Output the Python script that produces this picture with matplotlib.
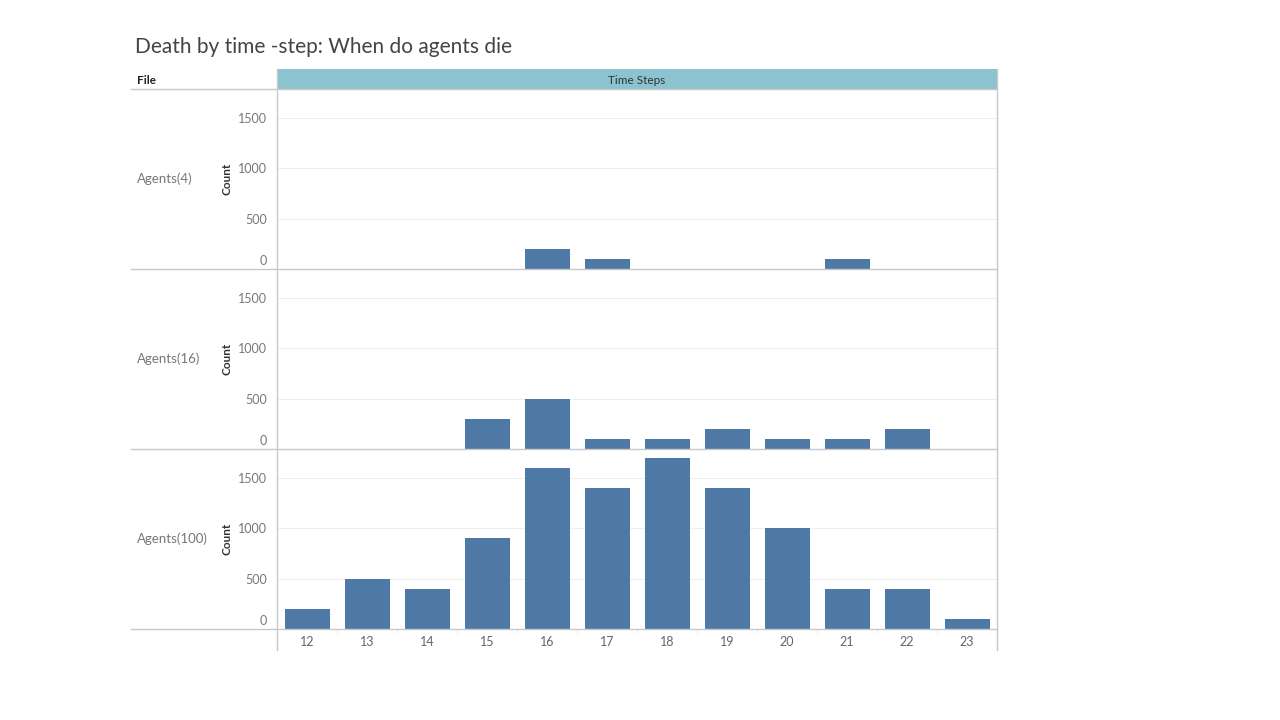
import numpy as np
import matplotlib.pyplot as plt
import matplotlib.transforms as mtransforms
from matplotlib.lines import Line2D
from matplotlib.patches import Rectangle

plt.rcParams['font.family'] = ['Lato', 'DejaVu Sans']

time_steps = [12, 13, 14, 15, 16, 17, 18, 19, 20, 21, 22, 23]
row_labels = ['Agents(4)', 'Agents(16)', 'Agents(100)']
counts_4 = [0, 0, 0, 0, 200, 100, 0, 0, 0, 100, 0, 0]
counts_16 = [0, 0, 0, 300, 500, 100, 100, 200, 100, 100, 200, 0]
counts_100 = [200, 500, 400, 900, 1600, 1400, 1700, 1400, 1000, 400, 400, 100]
y_ticks = [0, 500, 1000, 1500]

W, H = 1280, 720
fig = plt.figure(figsize=(12.8, 7.2), dpi=100)


def fx(px):
    return px / W


def fy(py):
    return 1 - py / H


bar_color = '#4E79A7'
line_color = '#c8c8c8'
x = np.arange(len(time_steps))

fig.text(fx(135), fy(47), 'Death by time -step: When do agents die',
         fontsize=15, color='#444444', va='center', ha='left')

# header
fig.text(fx(137), fy(80), 'File', fontsize=8.5, fontweight='bold',
         color='#222222', va='center', ha='left')
fig.add_artist(Rectangle((fx(277), fy(89)), fx(720), 20 / H,
                         transform=fig.transFigure, color='#8CC3D1', lw=0))
fig.text(fx(637), fy(80), 'Time Steps', fontsize=8.5, color='#333333',
         va='center', ha='center')

panels = [counts_4, counts_16, counts_100]
tops = [89, 269, 449]
lift = mtransforms.ScaledTranslation(0, 9 / 100, fig.dpi_scale_trans)
for i, (vals, top) in enumerate(zip(panels, tops)):
    ax = fig.add_axes([fx(277), fy(top + 180), fx(720), 180 / H])
    ax.bar(x, vals, width=0.75, color=bar_color, zorder=2)
    ax.set_xlim(-0.5, len(time_steps) - 0.5)
    ax.set_ylim(0, 1787)
    ax.set_yticks(y_ticks)
    ax.set_yticklabels([str(t) for t in y_ticks])
    ax.tick_params(axis='y', length=0, pad=7, labelsize=9, labelcolor='#777777')
    zero_lbl = ax.get_yticklabels()[0]
    zero_lbl.set_transform(zero_lbl.get_transform() + lift)
    for t in y_ticks[1:]:
        ax.axhline(t, color='#efefef', lw=0.8, zorder=1)
    for s in ax.spines.values():
        s.set_visible(False)
    if i == 2:
        ax.set_xticks(x)
        ax.set_xticklabels([str(t) for t in time_steps])
        ax.set_xticks(np.arange(0.5, len(time_steps) - 0.5), minor=True)
        ax.tick_params(axis='x', which='major', length=0, pad=5,
                       labelsize=9, labelcolor='#666666')
        ax.tick_params(axis='x', which='minor', length=3, color='#e6e6e6')
    else:
        ax.set_xticks([])
    fig.text(fx(137), fy(top + 90), row_labels[i], fontsize=9.5,
             color='#777777', va='center', ha='left')
    fig.text(fx(227), fy(top + 90), 'Count', fontsize=8.5, fontweight='bold',
             color='#333333', va='center', ha='center', rotation=90)

# frame lines
for py in [89, 269, 449, 629]:
    fig.add_artist(Line2D([fx(131), fx(997)], [fy(py), fy(py)],
                          transform=fig.transFigure, color=line_color, lw=1))
for px in [277, 997]:
    fig.add_artist(Line2D([fx(px), fx(px)], [fy(69), fy(650)],
                          transform=fig.transFigure, color=line_color, lw=1))

fig.savefig('out.png', dpi=100, facecolor='white')
